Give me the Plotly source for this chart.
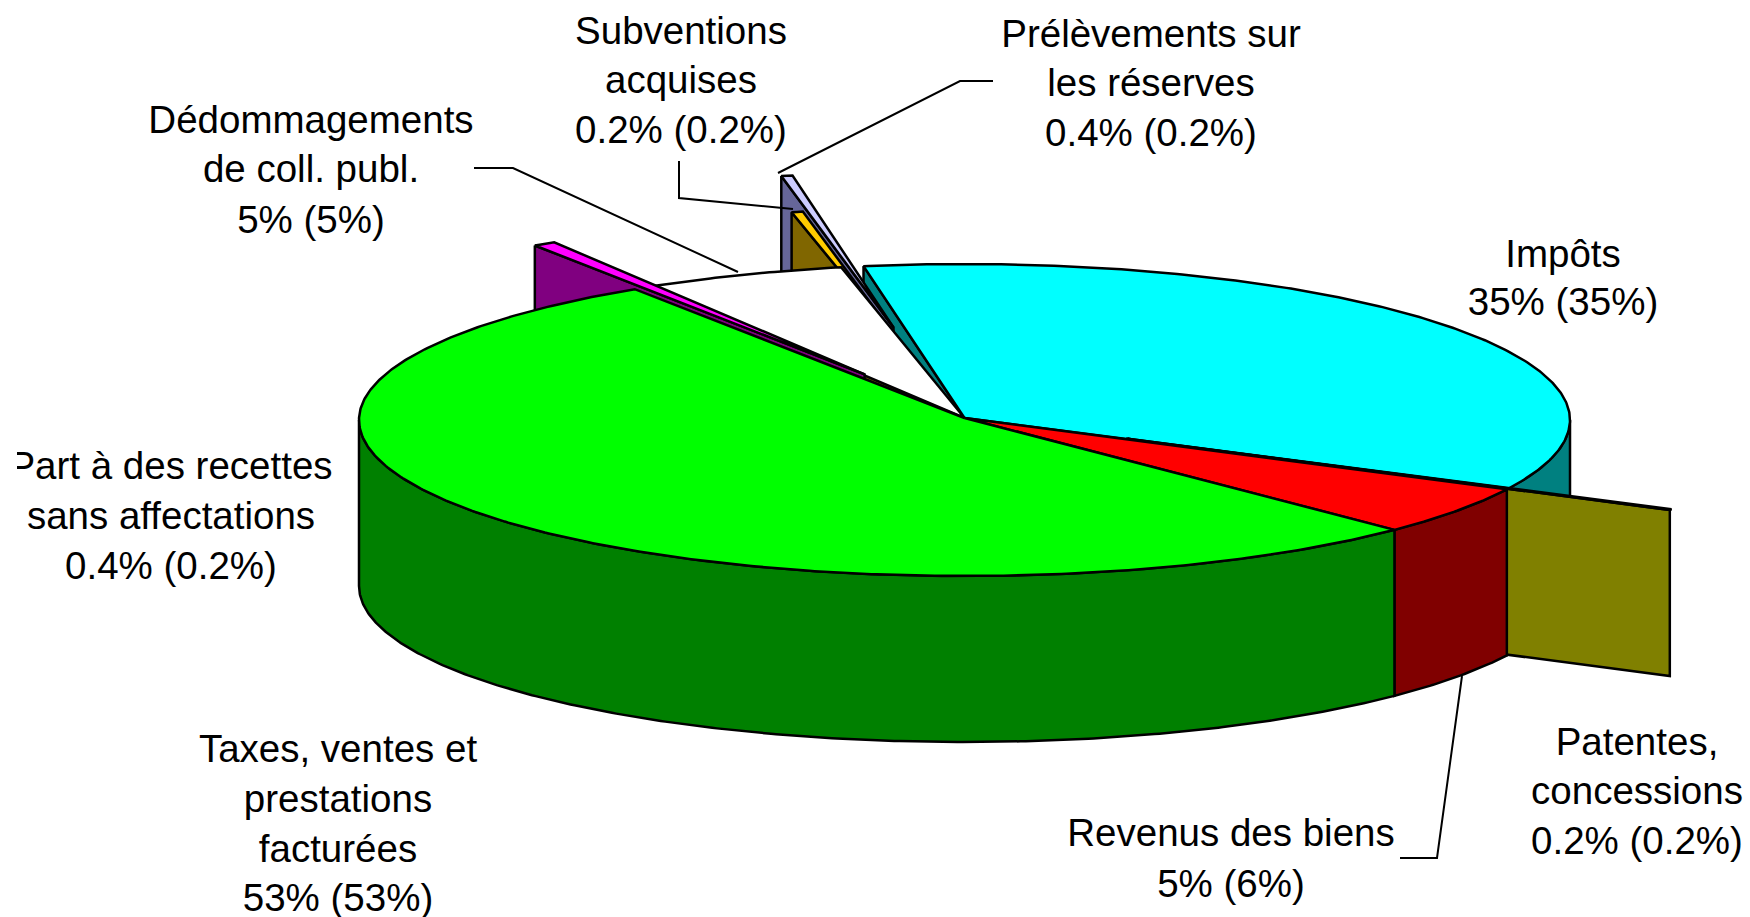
import numpy as np
import plotly.graph_objects as go

# Data
categories = ["Impôts", "Patentes, concessions", "Revenus des biens",
              "Taxes, ventes et prestations facturées",
              "Part à des recettes sans affectations",
              "Dédommagements de coll. publ.", "Subventions acquises",
              "Prélèvements sur les réserves"]
shares = [34.9, 0.1, 5.1, 53.4, 0.6, 5.3, 0.3, 0.3]
explode_x = [0, 0.30, 0, 0, 0.312, 0, 0.42, 0.666]
explode_y = [0, 0.30, 0, 0, 0.33, 0, 0.36, 0.59]
top_colors = ["#00FFFF", "#FFFF00", "#FF0000", "#00FF00", "#FF00FF", "#FFFFFF", "#FFCC00", "#CCCCFF"]
side_colors = ["#008080", "#808000", "#800000", "#008000", "#800080", "#808080", "#806600", "#666699"]

label_lines = [
    ["Impôts", "35% (35%)"],
    ["Patentes,", "concessions", "0.2% (0.2%)"],
    ["Revenus des biens", "5% (6%)"],
    ["Taxes, ventes et", "prestations", "facturées", "53% (53%)"],
    ["Part à des recettes", "sans affectations", "0.4% (0.2%)"],
    ["Dédommagements", "de coll. publ.", "5% (5%)"],
    ["Subventions", "acquises", "0.2% (0.2%)"],
    ["Prélèvements sur", "les réserves", "0.4% (0.2%)"],
]
label_x = [1563, 1637, 1231, 338, 171, 311, 681, 1151]
label_y = [[257, 305], [745, 794, 844], [836, 887], [752, 802, 852, 901],
           [469, 519, 569], [123, 172.5, 223], [34, 83, 133], [37, 86, 136]]
leaders = [
    ([474, 513, 738], [168, 168, 272]),
    ([679, 679, 793], [161, 198, 209]),
    ([993, 960, 778], [81, 81, 173]),
    ([1400, 1437, 1462], [858, 858, 676]),
]

# Pie geometry
CX, CY, A, B, DEPTH = 964.5, 420.0, 605.5, 156.0, 166.0
APEX_Y = 418.0
START = 350.4

ends = START + np.cumsum(shares) * 3.6
starts = ends - np.array(shares) * 3.6


def pt(theta):
    t = np.radians(theta)
    return CX + A * np.sin(t), CY - B * np.cos(t)


def offset(i):
    t = np.radians((starts[i] + ends[i]) / 2)
    return explode_x[i] * A * np.sin(t), -explode_y[i] * B * np.cos(t)


fig = go.Figure()


def poly(xs, ys, color):
    fig.add_trace(go.Scatter(
        x=list(xs) + [xs[0]], y=list(ys) + [ys[0]], mode="lines", fill="toself",
        fillcolor=color, line=dict(color="black", width=2.5), hoverinfo="skip",
        showlegend=False))


def top(i):
    dx, dy = offset(i)
    th = np.linspace(starts[i], ends[i], max(3, int(ends[i] - starts[i]) * 2 + 1))
    x, y = pt(th)
    poly(np.r_[CX, x] + dx, np.r_[APEX_Y, y] + dy, top_colors[i])


def cut_face(i, theta):
    dx, dy = offset(i)
    x, y = pt(theta)
    xs = np.array([x, CX, CX, x]) + dx
    ys = np.array([y, APEX_Y, APEX_Y + DEPTH, y + DEPTH]) + dy
    poly(xs, ys, side_colors[i])


def rim(i, a0, a1):
    th = np.linspace(a0, a1, int(a1 - a0) * 2 + 2)
    x, y = pt(th)
    poly(np.r_[x, x[::-1]], np.r_[y, y[::-1] + DEPTH], side_colors[i])


IMP, PAT, REV, TAX, PART, DED, SUB, PRE = range(8)

cut_face(IMP, starts[IMP])
cut_face(PRE, starts[PRE]); top(PRE)
cut_face(SUB, starts[SUB]); top(SUB)
top(DED)
cut_face(PART, starts[PART]); top(PART)
rim(IMP, 360 + 90, ends[IMP])
top(IMP)
cut_face(PAT, ends[PAT]); top(PAT)
rim(REV, starts[REV], ends[REV]); top(REV)
rim(TAX, starts[TAX], 360 + 270); top(TAX)

for lx, ly in leaders:
    fig.add_trace(go.Scatter(x=lx, y=ly, mode="lines", line=dict(color="black", width=2),
                             hoverinfo="skip", showlegend=False))

text_x, text_y, text_s = [], [], []
for lines, x, ys in zip(label_lines, label_x, label_y):
    for s, y in zip(lines, ys):
        text_x.append(x); text_y.append(y); text_s.append(s)
fig.add_trace(go.Scatter(x=text_x, y=text_y, text=text_s, mode="text", textposition="middle center",
                         textfont=dict(family="Liberation Sans, Arial, sans-serif", size=38.5, color="#000000"),
                         hoverinfo="skip", showlegend=False, cliponaxis=True))

fig.update_layout(
    width=1750, height=917, margin=dict(l=17, r=0, t=0, b=0),
    paper_bgcolor="white", plot_bgcolor="white", showlegend=False,
    xaxis=dict(range=[17, 1750], visible=False, fixedrange=True),
    yaxis=dict(range=[917, 0], visible=False, fixedrange=True),
)
fig.write_html("out.html", config={"displayModeBar": False},
               post_script="document.body.style.margin='0';window.dispatchEvent(new Event('resize'));")
